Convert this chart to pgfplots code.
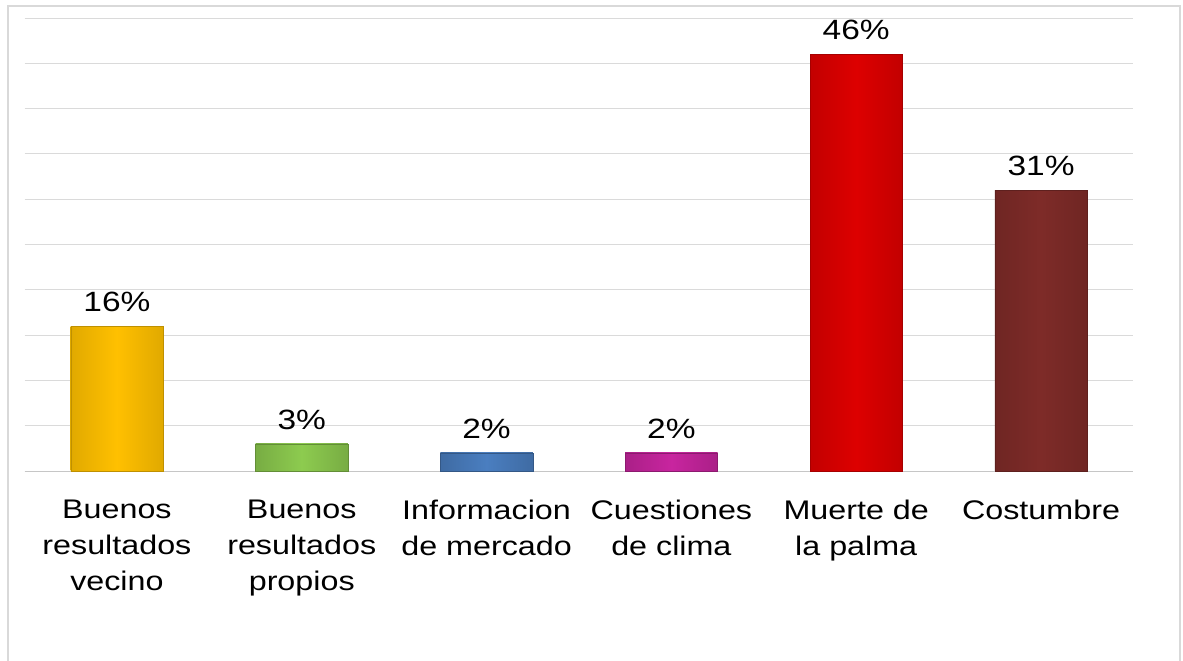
\documentclass[border=0pt]{standalone}
\usepackage{pgfplots}
\pgfplotsset{compat=1.18}
\usepackage{fontspec}
\setmainfont{Liberation Sans}[FakeStretch=1.2]

\definecolor{cYel}{HTML}{FFC000}
\definecolor{cGrn}{HTML}{8DCB4F}
\definecolor{cBlu}{HTML}{4A7EC0}
\definecolor{cMag}{HTML}{C8259F}
\definecolor{cRed}{HTML}{DD0000}
\definecolor{cBrn}{HTML}{7E2B28}
\definecolor{gridc}{HTML}{DADADA}

\begin{document}
\begin{tikzpicture}
\useasboundingbox (0,0) rectangle (1183bp,661bp);
\draw[gray!30, line width=1.2bp] (8bp,-5bp) -- (8bp,655bp) -- (1180bp,655bp) -- (1180bp,-5bp);
\begin{axis}[
    at={(24.5bp,190bp)}, anchor=south west,
    scale only axis,
    width=1109bp, height=453bp,
    ybar, bar width=0.5, bar shift=0pt,
    xmin=-0.5, xmax=5.5,
    ymin=0, ymax=50,
    ytick={0,5,...,50}, yticklabels={},
    ymajorgrids, grid style={gridc, line width=0.8bp},
    separate axis lines,
    axis x line*=bottom, axis y line*=left,
    y axis line style={draw=none},
    x axis line style={draw=gray!45, line width=0.8bp},
    tick style={draw=none},
    xtick={0,...,5},
    xticklabels={Buenos\\resultados\\vecino, Buenos\\resultados\\propios, Informacion\\de mercado, Cuestiones\\de clima, Muerte de\\la palma, Costumbre},
    xticklabel style={align=center, font=\fontsize{27}{36}\selectfont, yshift=-21bp},
    /pgf/number format/assume math mode=true,
    nodes near coords={\pgfmathprintnumber[fixed,precision=0]{\pgfplotspointmeta}\%},
    every node near coord/.append style={font=\fontsize{28}{30}\selectfont, black, yshift=11bp},
    clip=false,
]
\addplot[draw=cYel!75!black, left color=cYel!88!black, right color=cYel!88!black, middle color=cYel] coordinates {(0,16)};
\addplot[draw=cGrn!70!black, left color=cGrn!85!black, right color=cGrn!85!black, middle color=cGrn] coordinates {(1,3)};
\addplot[draw=cBlu!70!black, left color=cBlu!85!black, right color=cBlu!85!black, middle color=cBlu] coordinates {(2,2)};
\addplot[draw=cMag!70!black, left color=cMag!85!black, right color=cMag!85!black, middle color=cMag] coordinates {(3,2)};
\addplot[draw=cRed!75!black, left color=cRed!88!black, right color=cRed!88!black, middle color=cRed] coordinates {(4,46)};
\addplot[draw=cBrn!75!black, left color=cBrn!88!black, right color=cBrn!88!black, middle color=cBrn] coordinates {(5,31)};
\end{axis}
\end{tikzpicture}
\end{document}
